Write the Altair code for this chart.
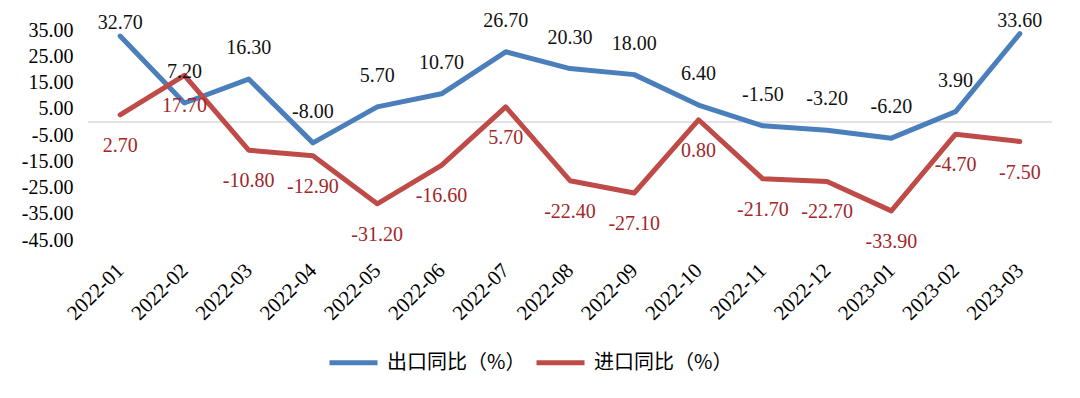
import altair as alt
import pandas as pd

months = ["2022-01", "2022-02", "2022-03", "2022-04", "2022-05", "2022-06", "2022-07",
          "2022-08", "2022-09", "2022-10", "2022-11", "2022-12", "2023-01", "2023-02", "2023-03"]
export_yoy = [32.7, 7.2, 16.3, -8.0, 5.7, 10.7, 26.7, 20.3, 18.0, 6.4, -1.5, -3.2, -6.2, 3.9, 33.6]
import_yoy = [2.7, 17.7, -10.8, -12.9, -31.2, -16.6, 5.7, -22.4, -27.1, 0.8, -21.7, -22.7, -33.9, -4.7, -7.5]
series_names = ["出口同比（%）", "进口同比（%）"]
series_colors = ["#4B7FBC", "#BE4B48"]
y_ticks = [35, 25, 15, 5, -5, -15, -25, -35, -45]

rows = []
for name, vals in zip(series_names, [export_yoy, import_yoy]):
    for m, v in zip(months, vals):
        rows.append({"month": m, "value": v, "series": name, "label": f"{v:.2f}"})
df = pd.DataFrame(rows)

y_scale = alt.Scale(domain=[-45, 35], nice=False, zero=False)

x_enc = alt.X(
    "month:N", sort=months,
    scale=alt.Scale(type="point", padding=0.5),
    axis=alt.Axis(title=None, labelAngle=-45, labelAlign="right", labelBaseline="middle",
                  domain=False, ticks=False, grid=False, labelPadding=27, labelOverlap=False,
                  labelFont="Liberation Serif", labelFontSize=21, labelColor="#000000"),
)
y_axis = alt.Axis(title=None, values=y_ticks, domain=False, ticks=False, grid=False,
                  labelOverlap=False,
                  labelExpr="replace(format(datum.value, '.2f'), '\u2212', '-')",
                  labelFont="Liberation Serif", labelFontSize=20, labelColor="#000000",
                  labelPadding=15)
y_enc = alt.Y("value:Q", scale=y_scale, axis=y_axis)

base = alt.Chart(df)

zero_rule = alt.Chart(pd.DataFrame({"value": [0]})).mark_rule(color="#D9D9D9", strokeWidth=1.5).encode(
    y=y_enc
)

lines = base.mark_line(strokeWidth=5, strokeJoin="round", strokeCap="round").encode(
    x=x_enc, y=y_enc,
    color=alt.Color("series:N", sort=series_names,
                    scale=alt.Scale(domain=series_names, range=series_colors),
                    legend=alt.Legend(title=None, orient="none", direction="horizontal",
                                      legendX=239, legendY=306,
                                      symbolType="stroke", symbolSize=2304, symbolStrokeWidth=5,
                                      labelFont="Noto Sans CJK SC", labelFontSize=20,
                                      labelColor="#000000", labelLimit=300, labelOffset=7,
                                      columnPadding=0)),
    detail="series:N",
)

txt_style = dict(font="Liberation Serif", fontSize=20, baseline="middle", align="center")

blue_low = base.transform_filter(
    (alt.datum.series == series_names[0]) & (alt.datum.value < 30)
).mark_text(dy=-31, color="#111111", **txt_style).encode(x=x_enc, y=y_enc, text="label:N")

blue_high = base.transform_filter(
    (alt.datum.series == series_names[0]) & (alt.datum.value >= 30)
).mark_text(dy=-13, color="#111111", **txt_style).encode(x=x_enc, y=y_enc, text="label:N")

red_txt = base.transform_filter(
    alt.datum.series == series_names[1]
).mark_text(dy=31, color="#A3262A", **txt_style).encode(x=x_enc, y=y_enc, text="label:N")

chart = alt.layer(zero_rule, lines, blue_low, blue_high, red_txt).properties(
    width=964, height=210,
    autosize="none",
    padding={"left": 80, "top": 22, "right": 12, "bottom": 155},
).configure_view(stroke=None)

chart.save("out.html", embed_options={"renderer": "svg", "actions": False})
